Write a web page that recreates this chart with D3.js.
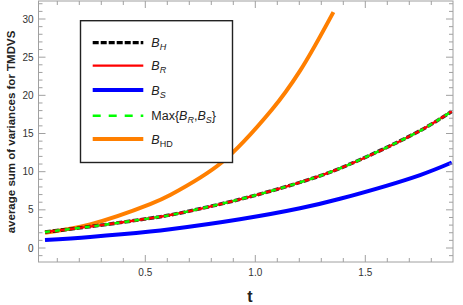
<!DOCTYPE html>
<html><head><meta charset="utf-8">
<script src="https://cdn.jsdelivr.net/npm/d3@7"></script>
<style>body{margin:0;background:#fff}svg{display:block}text{font-family:"Liberation Sans",Arial,sans-serif}</style>
</head><body><svg id="c" width="463" height="305"></svg>
<script>
// data
const tH  = [0.044, 0.249, 0.522, 0.613, 0.930, 1.203, 1.385, 1.749, 1.893];
const bH  = [2.1, 2.8, 3.9, 4.32, 6.38, 8.6, 10.44, 15.37, 17.9];
const bS  = [1.05, 1.45, 2.15, 2.45, 3.76, 5.2, 6.45, 9.56, 11.2];
const tHD = [0.044, 0.249, 0.522, 0.613, 0.847, 1.075, 1.203, 1.355];
const bHD = [2.0, 3.1, 5.75, 6.94, 11.2, 18.1, 23.2, 30.9];
const xTicks = [0.5, 1.0, 1.5];
const yTicks = [0, 5, 10, 15, 20, 25, 30];

const svg = d3.select("#c");
const L = 38.5, R = 453, T = 1, B = 262;
const x = d3.scaleLinear().domain([0.0145, 1.8986]).range([L, R]);
const y = d3.scaleLinear().domain([-1.834, 32.36]).range([B, T]);

svg.append("defs").append("clipPath").attr("id","cp").append("rect")
  .attr("x",L).attr("y",T).attr("width",R-L).attr("height",B-T);

const g = svg.append("g").attr("clip-path","url(#cp)");
const line = d3.line().curve(d3.curveCatmullRom.alpha(0.5)).x(d=>x(d[0])).y(d=>y(d[1]));
const hData = tH.map((t,i)=>[t,bH[i]]);
const sData = tH.map((t,i)=>[t,bS[i]]);
const hdData = tHD.map((t,i)=>[t,bHD[i]]);

g.append("path").attr("d",line(hdData)).attr("fill","none").attr("stroke","#ff7f00").attr("stroke-width",4);
g.append("path").attr("d",line(sData)).attr("fill","none").attr("stroke","#0000ff").attr("stroke-width",4);
g.append("path").attr("d",line(hData)).attr("fill","none").attr("stroke","#000").attr("stroke-width",3.6).attr("stroke-dasharray","6,2").attr("opacity",0.8);
g.append("path").attr("d",line(hData)).attr("fill","none").attr("stroke","#ff0000").attr("stroke-width",2.4);
g.append("path").attr("d",line(hData)).attr("fill","none").attr("stroke","#00ff00").attr("stroke-width",2.4).attr("stroke-dasharray","5,5");

// frame
const axCol = "#a0a0a0";
svg.append("rect").attr("x",L).attr("y",T).attr("width",R-L).attr("height",B-T)
  .attr("fill","none").attr("stroke",axCol).attr("stroke-width",1);

const xMinor = d3.range(1, 19).map(i=>i/10);
xMinor.forEach(v=>{
  const major = xTicks.some(m=>Math.abs(m-v)<1e-9);
  const len = major ? 7 : 4;
  svg.append("line").attr("x1",x(v)).attr("x2",x(v)).attr("y1",B).attr("y2",B-len).attr("stroke",axCol);
  svg.append("line").attr("x1",x(v)).attr("x2",x(v)).attr("y1",T).attr("y2",T+len).attr("stroke",axCol);
});
xTicks.forEach(v=>{
  svg.append("text").attr("x",x(v)).attr("y",B+14).attr("text-anchor","middle")
    .attr("font-size",10).attr("fill","#333").text(d3.format(".1f")(v));
});
d3.range(-1, 33).forEach(v=>{
  const major = v % 5 === 0;
  const len = major ? 7 : 4;
  svg.append("line").attr("y1",y(v)).attr("y2",y(v)).attr("x1",L).attr("x2",L+len).attr("stroke",axCol);
  svg.append("line").attr("y1",y(v)).attr("y2",y(v)).attr("x1",R).attr("x2",R-len).attr("stroke",axCol);
});
yTicks.forEach(v=>{
  svg.append("text").attr("x",L-5).attr("y",y(v)+3.5).attr("text-anchor","end")
    .attr("font-size",10).attr("fill","#333").text(v);
});

svg.append("text").attr("x",250).attr("y",302).attr("text-anchor","middle")
  .attr("font-size",16).attr("font-weight","bold").attr("fill","#222").text("t");
svg.append("text").attr("transform","translate(15,132) rotate(-90)").attr("text-anchor","middle")
  .attr("font-size",11.5).attr("font-weight","bold").attr("fill","#222").text("average sum of variances for TMDVS");

// legend
const lg = svg.append("g");
lg.append("rect").attr("x",80.5).attr("y",20.7).attr("width",152).attr("height",141.8)
  .attr("fill","#fff").attr("stroke","#222").attr("stroke-width",1.4);
const items = [
  {y:42.7, col:"#000", w:3.2, dash:"6,2", sub:"H", subItalic:true},
  {y:65.7, col:"#ff0000", w:2.2, dash:null, sub:"R", subItalic:true},
  {y:90, col:"#0000ff", w:4, dash:null, sub:"S", subItalic:true},
  {y:115.7, col:"#00ff00", w:2.4, dash:"8,8", max:true},
  {y:139, col:"#ff7f00", w:4, dash:null, sub:"HD", subItalic:false}
];
items.forEach(it=>{
  const l = lg.append("line").attr("x1",92.7).attr("x2",143.3).attr("y1",it.y).attr("y2",it.y)
    .attr("stroke",it.col).attr("stroke-width",it.w);
  if (it.dash) l.attr("stroke-dasharray",it.dash);
  const t = lg.append("text").attr("x",151.3).attr("y",it.y+4.5).attr("font-size",12.5).attr("fill","#222");
  if (it.max) {
    t.append("tspan").text("Max{");
    t.append("tspan").attr("font-style","italic").text("B");
    t.append("tspan").attr("font-style","italic").attr("font-size",9).attr("dy",3).text("R");
    t.append("tspan").attr("dy",-3).text(",");
    t.append("tspan").attr("font-style","italic").text("B");
    t.append("tspan").attr("font-style","italic").attr("font-size",9).attr("dy",3).text("S");
    t.append("tspan").attr("dy",-3).text("}");
  } else {
    t.append("tspan").attr("font-style","italic").text("B");
    t.append("tspan").attr("font-style",it.subItalic?"italic":"normal").attr("font-size",9).attr("dy",3).text(it.sub);
  }
});
</script></body></html>
